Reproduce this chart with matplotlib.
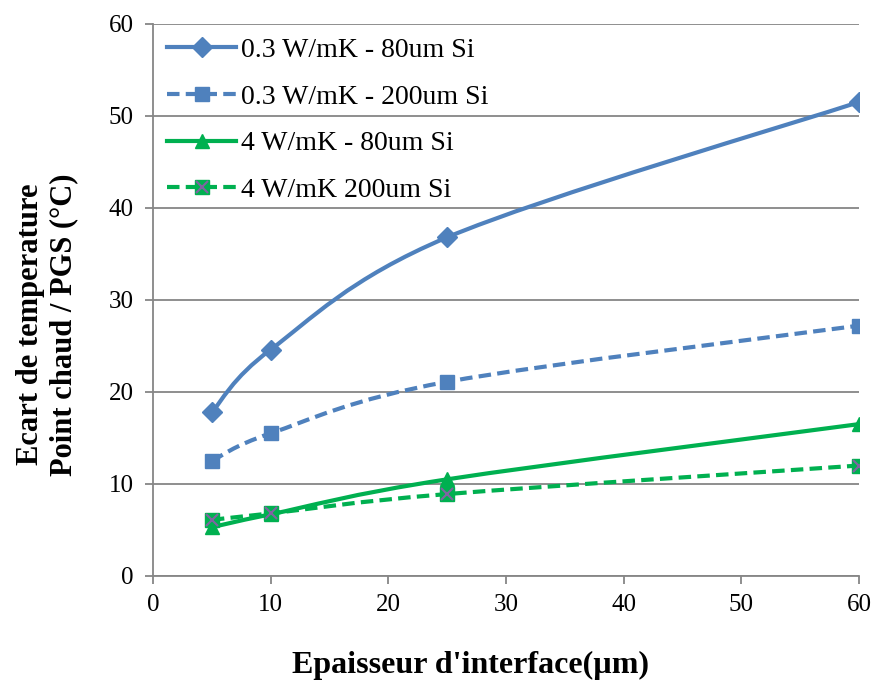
import matplotlib
matplotlib.use("Agg")
import matplotlib.pyplot as plt
from matplotlib.path import Path
from matplotlib.patches import PathPatch

# data
epaisseur = [5, 10, 25, 60]
s_03_80 = [17.8, 24.6, 36.8, 51.5]
s_03_200 = [12.5, 15.5, 21.1, 27.2]
s_4_80 = [5.3, 6.7, 10.5, 16.5]
s_4_200 = [6.1, 6.8, 8.9, 12.0]
labels = ["0.3 W/mK - 80um Si", "0.3 W/mK - 200um Si",
          "4 W/mK - 80um Si", "4 W/mK 200um Si"]

blue = "#4F81BD"
green = "#00B050"
purple = "#8064A2"
grid_c = "#868686"

plt.rcParams["font.family"] = ["Liberation Serif", "DejaVu Serif"]


def smooth_path(x, y):
    # Excel-like smoothed line: bezier segments through the points
    verts = [(x[0], y[0])]
    codes = [Path.MOVETO]
    n = len(x)
    for i in range(n - 1):
        x0, y0 = (x[i - 1], y[i - 1]) if i > 0 else (x[i], y[i])
        x3, y3 = (x[i + 2], y[i + 2]) if i + 2 < n else (x[i + 1], y[i + 1])
        c1 = (x[i] + (x[i + 1] - x0) / 6, y[i] + (y[i + 1] - y0) / 6)
        c2 = (x[i + 1] - (x3 - x[i]) / 6, y[i + 1] - (y3 - y[i]) / 6)
        verts += [c1, c2, (x[i + 1], y[i + 1])]
        codes += [Path.CURVE4] * 3
    return Path(verts, codes)


fig = plt.figure(figsize=(8.77, 6.8), dpi=100)
ax = fig.add_axes([0.1745, 0.153, 0.805, 0.812])

series = [
    (s_03_80, blue, "-", "D", 10),
    (s_03_200, blue, (0, (3, 1.5)), "s", 9.5),
    (s_4_80, green, "-", "^", 10),
    (s_4_200, green, (0, (3, 1.5)), "s", 9.5),
]
handles = []
for vals, col, ls, mk, ms in series:
    ax.add_patch(PathPatch(smooth_path(epaisseur, vals), facecolor="none",
                           edgecolor=col, lw=3, linestyle=ls, zorder=3))
    ax.plot(epaisseur, vals, linestyle="none", marker=mk, ms=ms,
            color=col, zorder=4)
    # legend proxy
    h, = ax.plot([], [], color=col, lw=3, linestyle=ls, marker=mk, ms=ms)
    handles.append(h)

ax.plot(epaisseur, s_4_200, linestyle="none", marker="x", ms=9, mew=1.5,
        color=purple, zorder=5)
hx, = ax.plot([], [], linestyle="none", marker="x", ms=9, mew=1.5, color=purple)
handles[3] = (handles[3], hx)

ax.set_xlim(0, 60)
ax.set_ylim(0, 60)
ax.set_xticks(range(0, 61, 10))
ax.set_yticks(range(0, 61, 10))
ax.grid(axis="y", color=grid_c, lw=1.3)
ax.set_axisbelow(True)
for s in ["top", "right"]:
    ax.spines[s].set_visible(False)
for s in ["left", "bottom"]:
    ax.spines[s].set_color(grid_c)
    ax.spines[s].set_linewidth(1.3)
ax.tick_params(colors=grid_c, width=1.3, length=6, labelsize=18,
               labelcolor="black")
ax.tick_params(axis="x", pad=7)
ax.tick_params(axis="y", pad=8)

ax.set_xlabel("Epaisseur d'interface(µm)", fontsize=23, fontweight="bold")
ax.xaxis.set_label_coords(0.449, -0.135)
ax.set_ylabel("Ecart de temperature\nPoint chaud / PGS (°C)", fontsize=22,
              fontweight="bold", linespacing=1.2)
ax.yaxis.set_label_coords(-0.106, 0.455)

ax.legend(handles, labels, loc="upper left", bbox_to_anchor=(0.0, 1.0),
          frameon=False, fontsize=20, handlelength=2.5, labelspacing=0.76,
          handletextpad=0.15, borderaxespad=0.15, borderpad=0.35)

fig.savefig("out.png", dpi=100)
